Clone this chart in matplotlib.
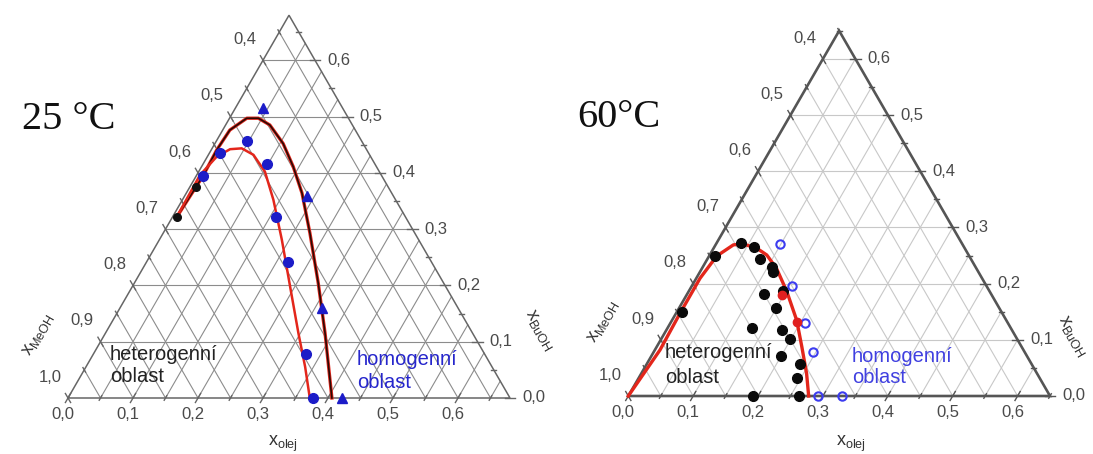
import numpy as np
import matplotlib
matplotlib.use("Agg")
import matplotlib.pyplot as plt

plt.rcParams['font.family'] = ['Liberation Sans', 'DejaVu Sans']

H = np.sqrt(3) / 2

# ---- 25 °C : binodal curves and measured points (x_olej, x_BuOH) ----
t25_outer_olej = [0.0065, 0.0105, 0.0085, 0.011, 0.0266, 0.0444, 0.068, 0.105, 0.141, 0.178, 0.226, 0.283, 0.338, 0.406]
t25_outer_buoh = [0.321, 0.394, 0.4405, 0.476, 0.497, 0.497, 0.485, 0.452, 0.411, 0.364, 0.2925, 0.204, 0.115, 0.0]
t25_inner_olej = [0.0065, 0.005, 0.0145, 0.0284, 0.0455, 0.0693, 0.102, 0.140, 0.1885, 0.2427, 0.297, 0.337, 0.372]
t25_inner_buoh = [0.321, 0.396, 0.429, 0.442, 0.4435, 0.432, 0.402, 0.352, 0.281, 0.198, 0.115, 0.0556, 0.0]
t25_circ_olej = [0.011, 0.0165, 0.047, 0.099, 0.1595, 0.218, 0.327, 0.377]
t25_circ_buoh = [0.394, 0.435, 0.457, 0.415, 0.321, 0.242, 0.078, 0.0]
t25_tri_olej = [0.043, 0.188, 0.312, 0.421]
t25_tri_buoh = [0.515, 0.359, 0.159, 0.0]
t25_black_olej = [0.0065, 0.009]
t25_black_buoh = [0.321, 0.375]

# ---- 60 °C ----
t60_curve_olej = [0.0, 0.0079, 0.0061, 0.0058, 0.0117, 0.0275, 0.042, 0.0665, 0.0879, 0.115, 0.1513, 0.192, 0.2234, 0.2548, 0.278]
t60_curve_buoh = [0.0, 0.082, 0.147, 0.2095, 0.249, 0.269, 0.2705, 0.263, 0.251, 0.227, 0.186, 0.135, 0.088, 0.040, 0.0]
t60_black_olej = [0.0078, 0.0094, 0.0371, 0.0609, 0.0813, 0.106, 0.1129, 0.1443, 0.1184, 0.149, 0.1297, 0.1777, 0.1982, 0.2002, 0.2369, 0.2437, 0.263, 0.1918]
t60_black_buoh = [0.149, 0.25, 0.273, 0.266, 0.243, 0.230, 0.221, 0.187, 0.1815, 0.1575, 0.121, 0.1175, 0.1006, 0.071, 0.057, 0.0326, 0.0, 0.0]
t60_red_olej = [0.147, 0.194]
t60_red_buoh = [0.18, 0.132]
t60_open_olej = [0.0988, 0.155, 0.2066, 0.2445, 0.292, 0.329]
t60_open_buoh = [0.27, 0.196, 0.130, 0.079, 0.0, 0.0]


def cart(olej, buoh):
    o = np.asarray(olej, float); b = np.asarray(buoh, float)
    return o + b / 2, b * H


def frame(ax, M, grid_c, edge_c, edge_lw, lab_c):
    ax.axis("off")
    steps = np.round(np.arange(0.05, M, 0.05), 2)
    for v in steps:
        major = abs(v * 10 - round(v * 10)) < 1e-6
        if major:  # x_BuOH = const
            ax.plot([v / 2, M - v / 2], [v * H, v * H], color=grid_c, lw=0.8, zorder=1)
        # x_olej = const
        ax.plot(*cart([v, v], [0, M - v]), color=grid_c, lw=0.8, zorder=1)
        # x_MeOH = const
        ax.plot(*cart([v, 0], [0, v]), color=grid_c, lw=0.8, zorder=1)
    ax.plot(*cart([0, M, 0, 0], [0, 0, M, 0]), color=edge_c, lw=edge_lw, zorder=2,
            solid_joinstyle="miter")
    # ticks
    for v in np.round(np.arange(0, M + 1e-9, 0.05), 2):
        major = abs(v * 10 - round(v * 10)) < 1e-6
        L = 0.008 if major else 0.004
        for (px, py), (dx, dy) in [(cart(v, 0), (0.5, H)), (cart(0, v), (-0.5, H)), (cart(M - v, v), (1, 0))]:
            ax.plot([px - L * dx, px + L * dx], [py - L * dy, py + L * dy], color=edge_c, lw=1.0, zorder=2)
        if major:
            s = f"{v:.1f}".replace(".", ",")
            x, y = cart(v, 0)
            ax.text(x - 0.008, y - 0.026, s, ha="center", va="center", fontsize=12, color=lab_c)
            x, y = cart(0, v)
            ax.text(x - 0.028, y + 0.032, f"{1 - v:.1f}".replace(".", ","), ha="center", va="center",
                    fontsize=12, color=lab_c)
            x, y = cart(M - v, v)
            ax.text(x + 0.019, y, s, ha="left", va="center", fontsize=12, color=lab_c)


fig = plt.figure(figsize=(10.93, 4.54), dpi=100)

# ================= 25 °C =================
axL = fig.add_axes([0, 0, 560 / 1093, 1])
axL.set_xlim(-68 / 650, (560 - 68) / 650); axL.set_ylim((398 - 454) / 650, 398 / 650)
frame(axL, 0.68, "#8c8c8c", "#666666", 1.1, "#4a4a4a")
axL.plot(*cart(t25_outer_olej, t25_outer_buoh), color="#e3261b", lw=2.4, zorder=3)
axL.plot(*cart(t25_outer_olej, t25_outer_buoh), color="#2a0a05", lw=1.2, zorder=3)
axL.plot(*cart(t25_inner_olej, t25_inner_buoh), color="#e3261b", lw=1.8, zorder=3)
axL.plot(*cart(t25_circ_olej, t25_circ_buoh), "o", color="#1c1cc8", ms=7, zorder=4)
axL.plot(*cart(t25_tri_olej, t25_tri_buoh), "^", color="#1c1cc8", ms=7.5, zorder=4)
axL.plot(*cart(t25_black_olej, t25_black_buoh), "o", color="#111111", ms=5.5, zorder=4)
axL.text(-0.0708, 0.4277, "25 °C", family="Liberation Serif", fontsize=29, ha="left", va="center", color="#111")
axL.text(0.0646, 0.0585, "heterogenní", fontsize=14.5, color="#222")
axL.text(0.0646, 0.0246, "oblast", fontsize=14.5, color="#222")
axL.text(0.4446, 0.0508, "homogenní", fontsize=14.5, color="#2626cc")
axL.text(0.4446, 0.0154, "oblast", fontsize=14.5, color="#2626cc")
axL.text(-0.046, 0.097, r"$\mathregular{x_{MeOH}}$", fontsize=13, rotation=60, ha="center", va="center", color="#333")
axL.text(0.726, 0.1046, r"$\mathregular{x_{BuOH}}$", fontsize=13, rotation=-60, ha="center", va="center", color="#333")
axL.text(0.331, -0.070, r"$\mathregular{x_{olej}}$", fontsize=13, ha="center", va="center", color="#333")

# ================= 60 °C =================
s = 648.8
axR = fig.add_axes([560 / 1093, 0, 533 / 1093, 1])
axR.set_xlim((560 - 628.3) / s, (1093 - 628.3) / s); axR.set_ylim((396 - 454) / s, 396 / s)
frame(axR, 0.65, "#c8c8c8", "#555555", 1.9, "#4a4a4a")
axR.plot(*cart(t60_curve_olej, t60_curve_buoh), color="#e3261b", lw=2.4, zorder=3)
axR.plot(*cart(t60_black_olej, t60_black_buoh), "o", color="#0a0a0a", ms=7, zorder=4)
axR.plot(*cart(t60_red_olej, t60_red_buoh), "o", color="#e02020", ms=6, zorder=5)
axR.plot(*cart(t60_open_olej, t60_open_buoh), "o", mfc="none", mec="#3c3cf0", mew=1.5, ms=6, zorder=4)
axR.text(-0.079, 0.4285, "60°C", family="Liberation Serif", fontsize=29, ha="left", va="center", color="#111")
axR.text(0.0566, 0.0586, "heterogenní", fontsize=14.5, color="#222")
axR.text(0.0566, 0.020, "oblast", fontsize=14.5, color="#222")
axR.text(0.3443, 0.0529, "homogenní", fontsize=14.5, color="#4040e0")
axR.text(0.3443, 0.020, "oblast", fontsize=14.5, color="#4040e0")
axR.text(-0.039, 0.114, r"$\mathregular{x_{MeOH}}$", fontsize=13, rotation=60, ha="center", va="center", color="#333")
axR.text(0.684, 0.0925, r"$\mathregular{x_{BuOH}}$", fontsize=13, rotation=-60, ha="center", va="center", color="#333")
axR.text(0.344, -0.074, r"$\mathregular{x_{olej}}$", fontsize=13, ha="center", va="center", color="#333")

fig.savefig("out.png", dpi=100)
